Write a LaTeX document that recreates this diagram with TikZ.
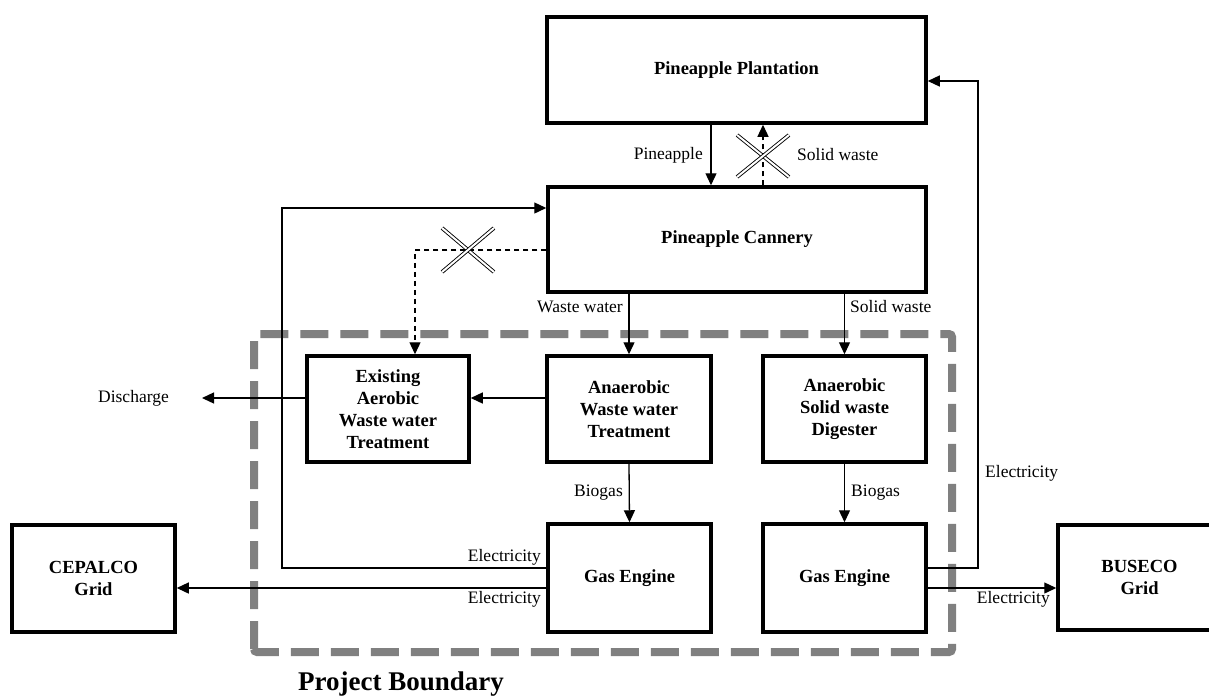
\documentclass[tikz,border=0pt]{standalone}
\usepackage{fontspec}
\setmainfont{Liberation Serif}
\usetikzlibrary{arrows.meta,calc}
\begin{document}
\begin{tikzpicture}[x=1pt,y=-1pt,
  box/.style={draw,line width=3.5pt,rectangle,align=center,inner sep=2pt,
    font=\fontsize{18.5}{22}\selectfont\bfseries},
  lbl/.style={font=\fontsize{17.5}{20}\selectfont,inner sep=0pt},
  arr/.style={line width=1.3pt,-{Triangle[length=12pt,width=11pt]}},
  conn/.style={line width=1.3pt},
  dsh/.style={line width=1.3pt,dash pattern=on 5pt off 4pt,-{Triangle[length=12pt,width=11pt]}},
  cross/.style={double,double distance=2pt,line width=0.9pt},
  boundary/.style={draw=black!50,line width=8pt,dash pattern=on 28pt off 12pt,rounded corners=3pt}]
\useasboundingbox (0,0) rectangle (1209,697);

% project boundary
\draw[boundary] (254,652) -- (254,334) -- (952,334) -- (952,652) -- cycle;
\node[font=\fontsize{27}{30}\selectfont\bfseries,inner sep=0pt,anchor=base] (pb) at (401,690) {Project Boundary};

% boxes
\node[box,minimum width=379pt,minimum height=106pt] (plant) at (736.5,70) {Pineapple Plantation};
\node[box,minimum width=378pt,minimum height=105pt] (cannery) at (737,239.5) {Pineapple Cannery};
\node[box,minimum width=162pt,minimum height=106pt] (existing) at (388,409) {Existing\\Aerobic\\Waste water\\Treatment};
\node[box,minimum width=164pt,minimum height=106pt] (anww) at (629,409) {Anaerobic\\Waste water\\Treatment};
\node[box,minimum width=163pt,minimum height=106pt] (digester) at (844.5,409) {Anaerobic\\Solid waste\\Digester};
\node[box,minimum width=163pt,minimum height=108pt] (ge1) at (629.5,578) {Gas Engine};
\node[box,minimum width=163pt,minimum height=108pt] (ge2) at (844.5,578) {Gas Engine};
\node[box,minimum width=163pt,minimum height=107pt] (cepalco) at (93.5,578.5) {CEPALCO\\Grid};
\node[box,minimum width=163pt,minimum height=105pt] (buseco) at (1139.5,577.5) {BUSECO\\Grid};

% coordinates
\coordinate (dis) at (202,398);
\coordinate (c1) at (282,568);
\coordinate (c2) at (282,208);
\coordinate (r1) at (978,568);
\coordinate (r2) at (978,81);
\coordinate (d1) at (415,250);
\coordinate (x1) at (468,250);
\coordinate (x2) at (763,156);

% plantation -> cannery
\draw[arr] ([xshift=-25.5pt]plant.south) -- ([xshift=-25.5pt]plant.south |- cannery.north);
\node[lbl,anchor=east] (lpine) at (703,155) {Pineapple};
\draw[dsh] ([xshift=26pt]cannery.north) -- ([xshift=26pt]cannery.north |- plant.south);
\node[lbl,anchor=west] (lsw1) at (797,155) {Solid waste};
\draw[cross] ($(x2)+(-26,-21)$) -- ($(x2)+(26,21)$);
\draw[cross] ($(x2)+(-26,21)$) -- ($(x2)+(26,-21)$);

% cannery -> existing (dashed, crossed)
\draw[dsh] ([yshift=-10.5pt]cannery.west) -- (d1) -- (d1 |- existing.north);
\draw[cross] ($(x1)+(-26,-22)$) -- ($(x1)+(26,22)$);
\draw[cross] ($(x1)+(-26,22)$) -- ($(x1)+(26,-22)$);

% cannery -> anaerobic units
\draw[arr] (cannery.south -| anww.north) -- (anww.north);
\node[lbl,anchor=east] (lww) at (623,307) {Waste water};
\draw[arr] (cannery.south -| digester.north) -- (digester.north);
\node[lbl,anchor=west] (lsw2) at (850,307) {Solid waste};

% anww -> existing -> discharge
\draw[arr] ([yshift=11pt]anww.west) -- ([yshift=11pt]existing.east);
\draw[arr] ([yshift=11pt]existing.west) -- (dis);
\node[lbl,anchor=east] (ldis) at (169,398) {Discharge};

% biogas
\draw[arr] (anww.south) -- (ge1.north);
\node[lbl,anchor=east] (lbg1) at (623,493) {Biogas};
\draw[arr] (digester.south) -- (ge2.north);
\node[lbl,anchor=west] (lbg2) at (851,493) {Biogas};

% electricity
\draw[arr] ([yshift=10pt]ge1.west) -- (c1) -- (c2) -- ([yshift=31.5pt]cannery.west);
\node[lbl,anchor=east] (le1) at (541,557) {Electricity};
\draw[arr] ([yshift=-10pt]ge1.west) -- ([yshift=-10pt]ge1.west -| cepalco.east);
\node[lbl,anchor=east] (le2) at (541,599) {Electricity};
\draw[arr] ([yshift=10pt]ge2.east) -- (r1) -- (r2) -- (r2 -| plant.east);
\node[lbl,anchor=west] (le3) at (985,473) {Electricity};
\draw[arr] ([yshift=-10pt]ge2.east) -- ([yshift=-10pt]ge2.east -| buseco.west);
\node[lbl,anchor=east] (le4) at (1050,599) {Electricity};
\end{tikzpicture}
\end{document}
